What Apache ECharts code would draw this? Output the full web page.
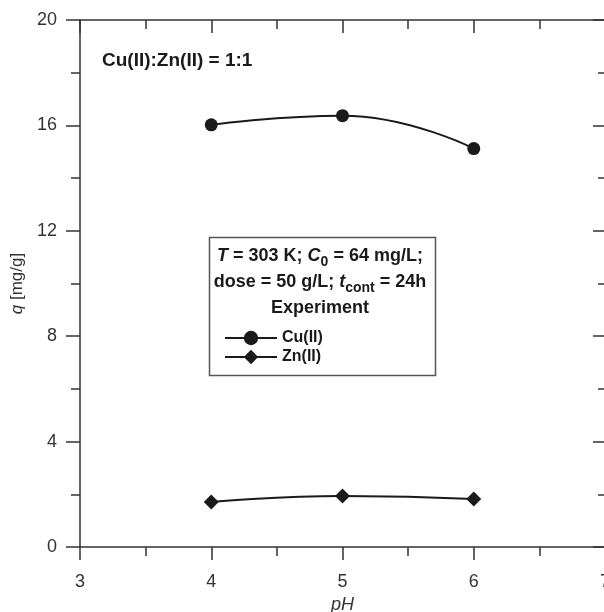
<!DOCTYPE html>
<html>
<head>
<meta charset="utf-8">
<script src="https://cdn.jsdelivr.net/npm/echarts@6/dist/echarts.min.js"></script>
<style>
  html, body { margin: 0; background: #fff; }
  #main { width: 604px; height: 612px; }
</style>
</head>
<body>
<div id="main"></div>
<script>
// data
const phValues = [4, 5, 6]
const cuValues = [16.02, 16.37, 15.12]
const znValues = [1.71, 1.94, 1.82]
const seriesNames = ['Cu(II)', 'Zn(II)']

const ink = '#1a1a1a'
const axisColor = '#333'
const font = 'Liberation Sans, Arial, sans-serif'

const chart = echarts.init(document.getElementById('main'))

// common axis bits
const lineStyle = { color: axisColor, width: 1.5 }

const option = {
  animation: false,
  textStyle: { fontFamily: font },
  grid: { left: 80, right: -1, top: 20, bottom: 65, outerBoundsMode: 'none', containLabel: false },
  xAxis: [
    {
      type: 'value', min: 3, max: 7, interval: 1,
      name: '{i|pH}', nameLocation: 'middle', nameGap: 45,
      nameTextStyle: { rich: { i: { fontStyle: 'italic', fontSize: 18, color: '#333', fontFamily: font } } },
      axisLine: { show: true, onZero: false, lineStyle },
      axisTick: { show: true, inside: false, length: 13, lineStyle },
      minorTick: { show: true, splitNumber: 2, length: 9, lineStyle },
      axisLabel: { fontSize: 18, color: '#333', margin: 26, showMaxLabel: true },
      splitLine: { show: false }
    },
    {
      type: 'value', min: 3, max: 7, interval: 1, position: 'top',
      axisLine: { show: true, onZero: false, lineStyle },
      axisTick: { show: true, inside: true, length: 13, lineStyle },
      minorTick: { show: true, splitNumber: 2, length: 9, lineStyle },
      axisLabel: { show: false },
      splitLine: { show: false }
    }
  ],
  yAxis: [
    {
      type: 'value', min: 0, max: 20, interval: 4,
      name: '{i|q}{n| [mg/g]}', nameLocation: 'middle', nameGap: 47,
      nameTextStyle: {
        rich: {
          i: { fontStyle: 'italic', fontSize: 17, color: '#333', fontFamily: font },
          n: { fontSize: 17, color: '#333', fontFamily: font }
        }
      },
      axisLine: { show: true, onZero: false, lineStyle },
      axisTick: { show: true, inside: false, length: 14, lineStyle },
      minorTick: { show: true, splitNumber: 2, length: 9, lineStyle },
      axisLabel: { fontSize: 18, color: '#333', margin: 23 },
      splitLine: { show: false }
    },
    {
      type: 'value', min: 0, max: 20, interval: 4, position: 'right',
      axisLine: { show: true, onZero: false, lineStyle },
      axisTick: { show: true, inside: true, length: 12, lineStyle },
      minorTick: { show: true, splitNumber: 2, length: 7, lineStyle },
      axisLabel: { show: false },
      splitLine: { show: false }
    }
  ],
  legend: {
    orient: 'vertical',
    left: 219, top: 325,
    itemWidth: 52, itemHeight: 18, itemGap: 3,
    textStyle: { fontSize: 16, fontWeight: 'bold', color: ink },
    data: seriesNames
  },
  series: [
    {
      name: seriesNames[0], type: 'line', smooth: 0.5,
      data: phValues.map((p, i) => [p, cuValues[i]]),
      symbol: 'circle', symbolSize: 13,
      lineStyle: { color: ink, width: 2 },
      itemStyle: { color: ink }
    },
    {
      name: seriesNames[1], type: 'line', smooth: 0.5,
      data: phValues.map((p, i) => [p, znValues[i]]),
      symbol: 'diamond', symbolSize: 15,
      lineStyle: { color: ink, width: 2 },
      itemStyle: { color: ink }
    }
  ],
  graphic: [
    {
      type: 'text', left: 102, top: 51,
      style: { text: 'Cu(II):Zn(II) = 1:1', font: 'bold 19px ' + font, fill: ink }
    },
    // legend box
    {
      type: 'rect', left: 207, top: 235, z: 0,
      shape: { width: 226, height: 138 },
      style: { fill: 'none', stroke: '#555', lineWidth: 1.5 }
    },
    {
      type: 'text', x: 320, y: 243, z: 10,
      style: {
        text: '{b|}{it|T}{b| = 303 K; }{it|C}{sub|0}{b| = 64 mg/L;}\n{b|dose = 50 g/L; }{it|t}{sub|cont}{b| = 24h}\n{b|Experiment}',
        align: 'center', fill: ink,
        rich: {
          b: { font: 'bold 18px ' + font, fill: ink, lineHeight: 26, verticalAlign: 'middle' },
          it: { font: 'italic bold 18px ' + font, fill: ink, lineHeight: 26, verticalAlign: 'middle' },
          sub: { font: 'bold 14px ' + font, fill: ink, lineHeight: 19, verticalAlign: 'bottom' }
        }
      }
    }
  ]
}

chart.setOption(option)
</script>
</body>
</html>
